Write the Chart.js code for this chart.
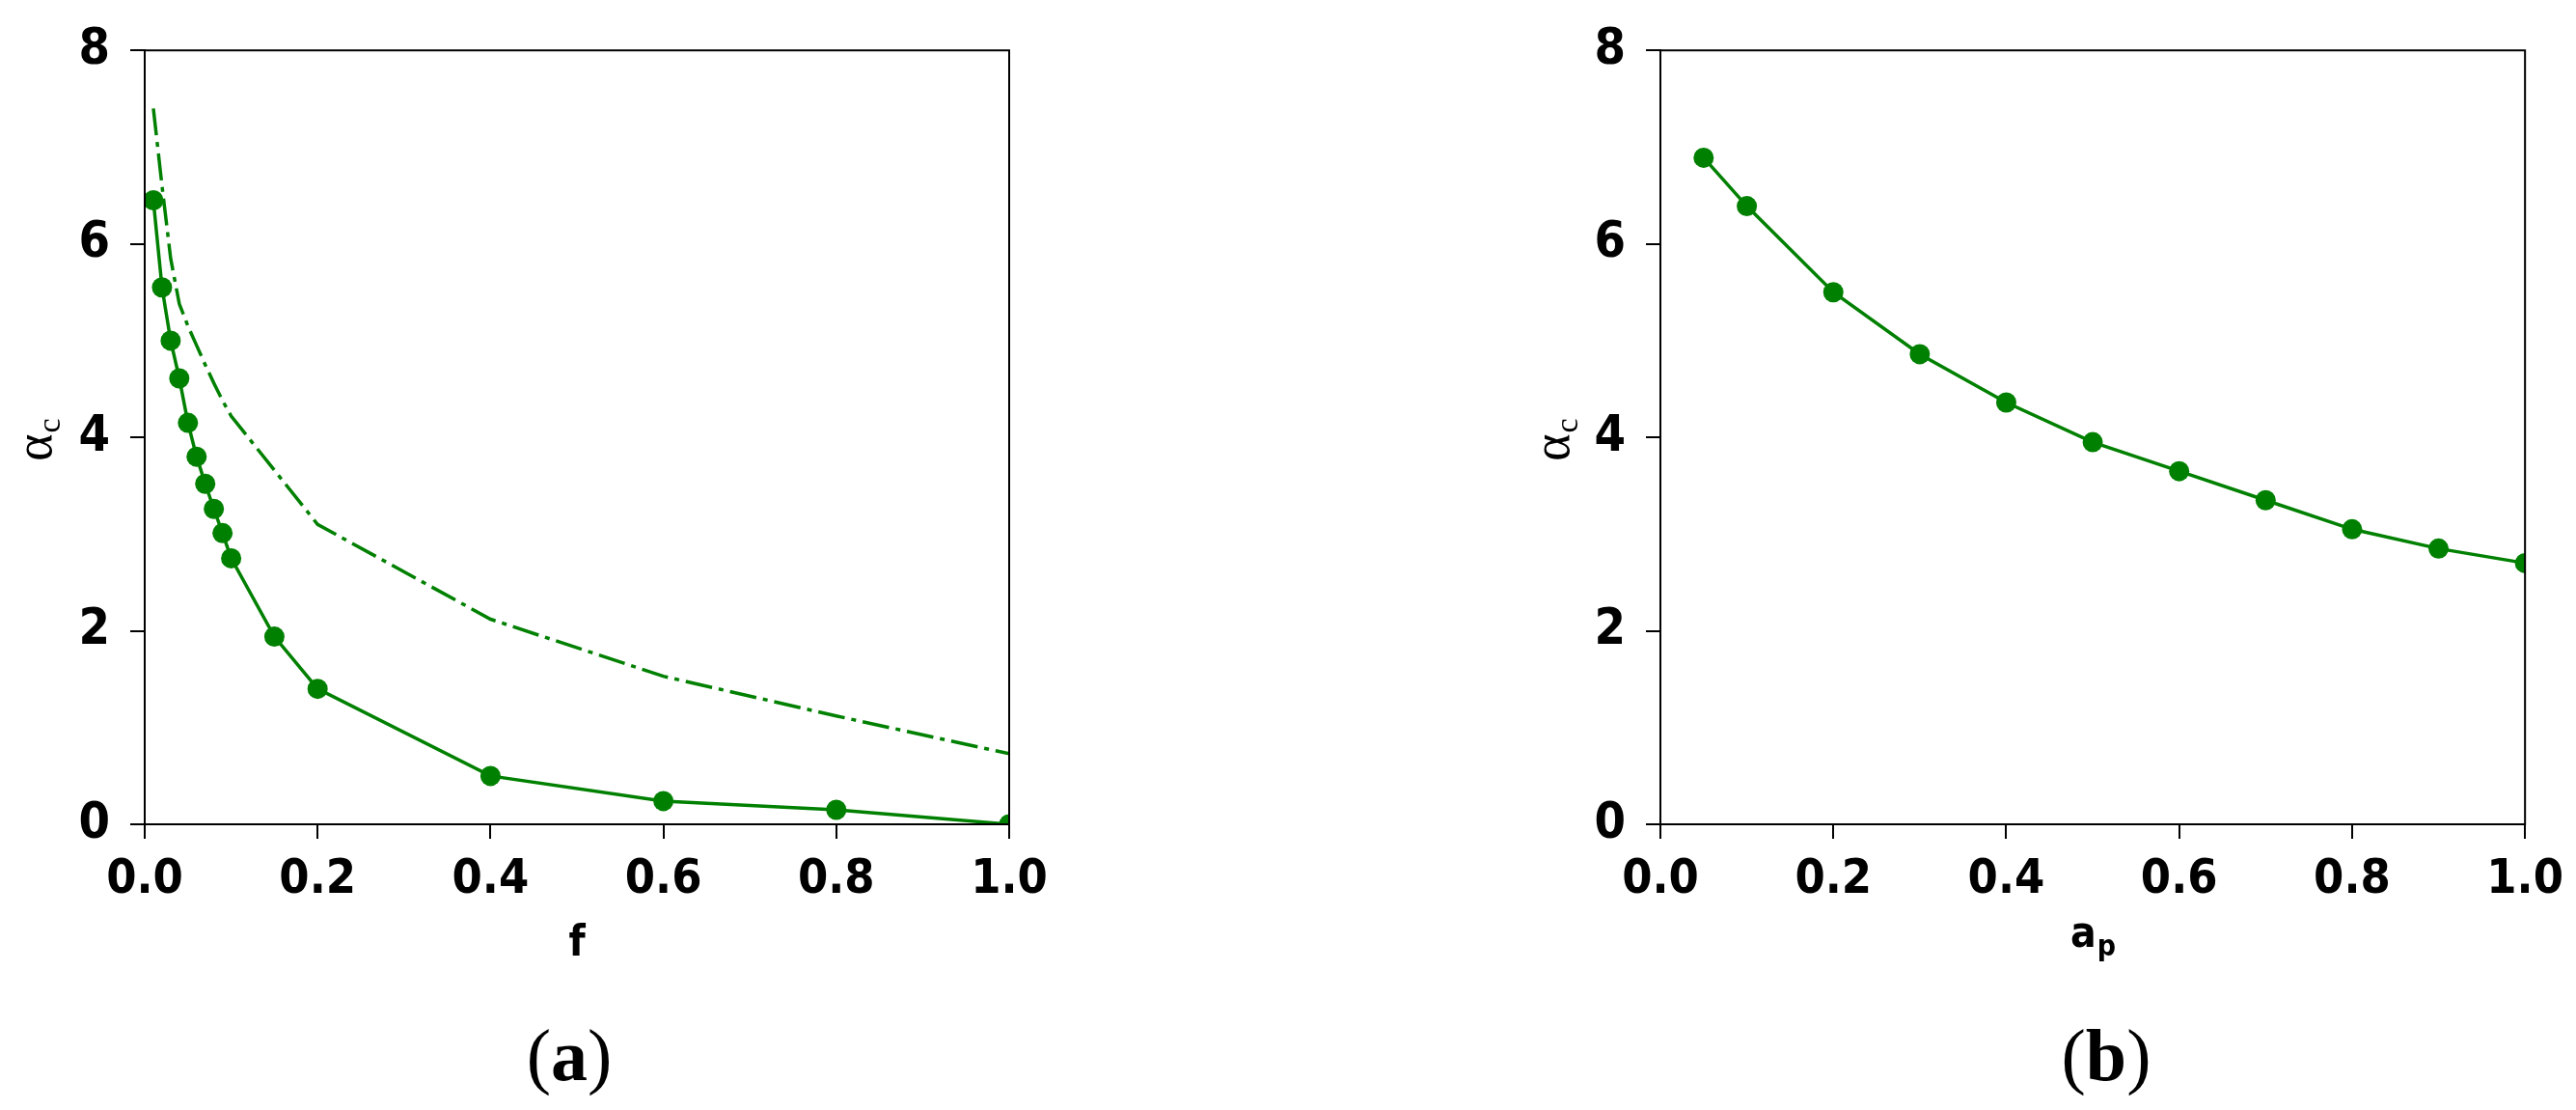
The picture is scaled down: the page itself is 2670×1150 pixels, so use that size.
<!DOCTYPE html>
<html><head><meta charset="utf-8">
<script src="https://cdn.jsdelivr.net/npm/chart.js@4.4.1/dist/chart.umd.min.js"></script>
<style>
html,body{margin:0;padding:0;background:#fff;}
body{width:2670px;height:1150px;position:relative;overflow:hidden;}
canvas{position:absolute;top:0;}
.cap{position:absolute;font-family:'Liberation Serif','DejaVu Serif',serif;font-size:76px;line-height:1;transform:translate(-50%,-50%);white-space:nowrap;color:#000;}
.cap b{font-weight:bold;}
</style></head><body>
<canvas id="ca" width="1100" height="1150" style="left:0;width:1100px;height:1150px"></canvas>
<canvas id="cb" width="1110" height="1150" style="left:1560px;width:1110px;height:1150px"></canvas>
<div class="cap" style="left:590px;top:1093px">(<b>a</b>)</div>
<div class="cap" style="left:2183px;top:1093px">(<b>b</b>)</div>
<script>
// ---- data (a) ----
const fValues    = [0.01, 0.02, 0.03, 0.04, 0.05, 0.06, 0.07, 0.08, 0.09, 0.10, 0.15, 0.20, 0.40, 0.60, 0.80, 1.00];
const alphaSolid = [6.45, 5.55, 5.00, 4.61, 4.15, 3.80, 3.52, 3.26, 3.01, 2.75, 1.94, 1.40, 0.50, 0.24, 0.15, 0.00];
const fDash      = [0.01, 0.02, 0.03, 0.04, 0.05, 0.06, 0.07, 0.08, 0.09, 0.10, 0.20, 0.40, 0.60, 0.80, 1.00];
const alphaDash  = [7.40, 6.60, 5.85, 5.38, 5.15, 4.95, 4.75, 4.56, 4.38, 4.22, 3.10, 2.12, 1.53, 1.12, 0.73];
// ---- data (b) ----
const apValues   = [0.05, 0.10, 0.20, 0.30, 0.40, 0.50, 0.60, 0.70, 0.80, 0.90, 1.00];
const alphaAp    = [6.89, 6.39, 5.50, 4.86, 4.36, 3.95, 3.65, 3.35, 3.05, 2.85, 2.70];
// ---- ticks ----
const xTickValues = [0, 0.2, 0.4, 0.6, 0.8, 1.0];
const xTickLabels = ['0.0', '0.2', '0.4', '0.6', '0.8', '1.0'];
const yTickValues = [0, 2, 4, 6, 8];
const yTickLabels = ['0', '2', '4', '6', '8'];

const GREEN = '#008000';
const TICK_FONT = 'DejaVu Sans Condensed';

function pts(xs, ys) { return xs.map((x, i) => ({ x: x, y: ys[i] })); }

function framePlugin() {
  return {
    id: 'frame',
    afterDraw(chart) {
      const a = chart.chartArea, ctx = chart.ctx;
      ctx.save();
      ctx.strokeStyle = '#000';
      ctx.lineWidth = 2;
      ctx.strokeRect(a.left, a.top, a.right - a.left, a.bottom - a.top);
      ctx.restore();
    }
  };
}

function titlePlugin(yBaseX, xMain, xSub) {
  return {
    id: 'axisTitles',
    afterDraw(chart) {
      const a = chart.chartArea, ctx = chart.ctx;
      ctx.save();
      ctx.fillStyle = '#000';
      const cy = (a.top + a.bottom) / 2 + 3;
      ctx.translate(yBaseX, cy);
      ctx.rotate(-Math.PI / 2);
      ctx.textBaseline = 'alphabetic';
      ctx.textAlign = 'left';
      ctx.font = '54px "Liberation Serif", "DejaVu Serif", serif';
      const wA = ctx.measureText('α').width;
      ctx.font = '34px "Liberation Serif", "DejaVu Serif", serif';
      const wC = ctx.measureText('c').width;
      const x0 = -(wA + wC) / 2;
      ctx.font = '54px "Liberation Serif", "DejaVu Serif", serif';
      ctx.fillText('α', x0, 0);
      ctx.font = '34px "Liberation Serif", "DejaVu Serif", serif';
      ctx.fillText('c', x0 + wA + 1, 9);
      ctx.restore();
      ctx.save();
      ctx.fillStyle = '#000';
      ctx.textBaseline = 'alphabetic';
      ctx.textAlign = 'left';
      const cx = (a.left + a.right) / 2;
      ctx.font = 'bold 44px "' + TICK_FONT + '", "DejaVu Sans", sans-serif';
      const wM = ctx.measureText(xMain).width;
      let wS = 0;
      if (xSub) {
        ctx.font = 'bold 30px "' + TICK_FONT + '", "DejaVu Sans", sans-serif';
        wS = ctx.measureText(xSub).width;
      }
      const sx = cx - (wM + wS) / 2;
      const baseY = xSub ? 981 : 990;
      ctx.font = 'bold 44px "' + TICK_FONT + '", "DejaVu Sans", sans-serif';
      ctx.fillText(xMain, sx, baseY);
      if (xSub) {
        ctx.font = 'bold 30px "' + TICK_FONT + '", "DejaVu Sans", sans-serif';
        ctx.fillText(xSub, sx + wM + 1, baseY + 9);
      }
      ctx.restore();
    }
  };
}

function makeChart(id, datasets, yAxisWidth, padRight, yBaseX, xMain, xSub) {
  return new Chart(document.getElementById(id), {
    type: 'line',
    data: { datasets: datasets },
    options: {
      responsive: false,
      animation: false,
      devicePixelRatio: 1,
      layout: { padding: { top: 43, right: padRight, left: 0, bottom: 0 } },
      plugins: { legend: { display: false }, tooltip: { enabled: false } },
      elements: { line: { tension: 0 } },
      scales: {
        x: {
          type: 'linear', min: 0, max: 1,
          afterBuildTicks: s => { s.ticks = xTickValues.map(v => ({ value: v })); },
          afterFit: s => { s.height = 1150 - 854; },
          ticks: {
            autoSkip: false, maxRotation: 0, minRotation: 0,
            color: '#000', padding: 13,
            font: { family: TICK_FONT, size: 50, weight: 'bold' },
            callback: (v, i) => xTickLabels[i]
          },
          grid: { drawOnChartArea: false, drawTicks: true, tickLength: 15, color: '#000', lineWidth: 2 },
          border: { display: true, color: '#000', width: 2 }
        },
        y: {
          type: 'linear', min: 0, max: 8,
          afterBuildTicks: s => { s.ticks = yTickValues.map(v => ({ value: v })); },
          afterFit: s => { s.width = yAxisWidth; },
          ticks: {
            autoSkip: false, color: '#000', padding: 21,
            font: { family: TICK_FONT, size: 52, weight: 'bold' },
            callback: (v, i) => yTickLabels[i]
          },
          grid: { drawOnChartArea: false, drawTicks: true, tickLength: 15, color: '#000', lineWidth: 2 },
          border: { display: true, color: '#000', width: 2 }
        }
      }
    },
    plugins: [framePlugin(), titlePlugin(yBaseX, xMain, xSub)]
  });
}

makeChart('ca', [
  {
    data: pts(fDash, alphaDash),
    borderColor: GREEN, backgroundColor: GREEN, borderWidth: 3.5,
    borderDash: [28, 7, 5, 7], pointRadius: 0, pointHoverRadius: 0, clip: 0, fill: false
  },
  {
    data: pts(fValues, alphaSolid),
    borderColor: GREEN, backgroundColor: GREEN, borderWidth: 3.5,
    pointRadius: 10.5, pointHoverRadius: 10.5, pointBorderWidth: 0,
    pointBackgroundColor: GREEN, clip: 0, fill: false
  }
], 150, 54, 53, 'f', null);

makeChart('cb', [
  {
    data: pts(apValues, alphaAp),
    borderColor: GREEN, backgroundColor: GREEN, borderWidth: 3.5,
    pointRadius: 10.5, pointHoverRadius: 10.5, pointBorderWidth: 0,
    pointBackgroundColor: GREEN, clip: 0, fill: false
  }
], 161, 52, 66, 'a', 'p');
</script>
</body></html>
